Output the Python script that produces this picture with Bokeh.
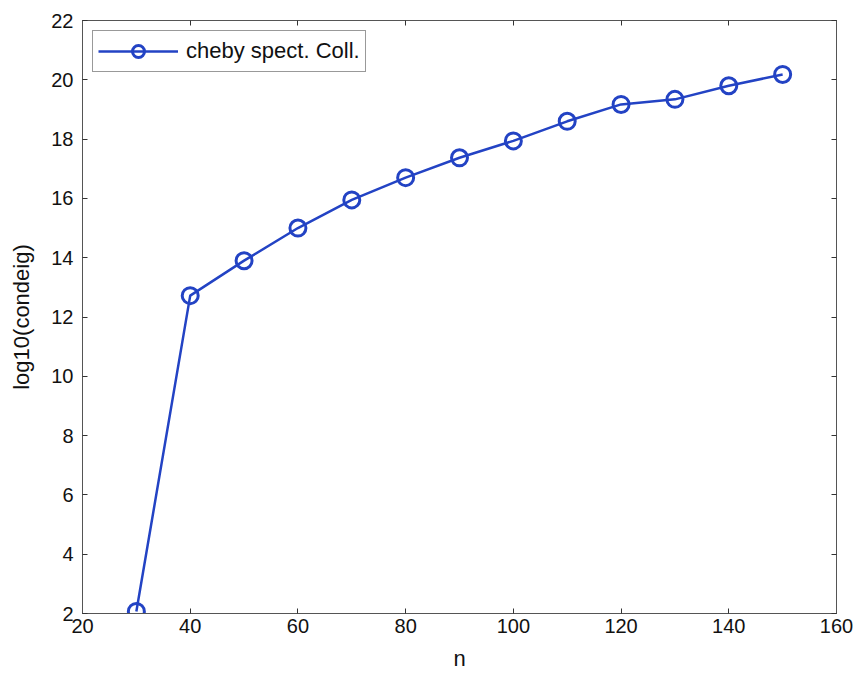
from bokeh.plotting import figure
from bokeh.models import Range1d, LinearAxis, FixedTicker, Legend, LegendItem
from bokeh.embed import file_html
from bokeh.resources import INLINE

# matrix size n and log10 of the eigenvalue condition number
n_values = [30, 40, 50, 60, 70, 80, 90, 100, 110, 120, 130, 140, 150]
log_condeig = [2.07, 12.72, 13.9, 15.0, 15.95, 16.7, 17.37, 17.94, 18.6, 19.17, 19.34, 19.8, 20.18]

x_ticks = [20, 40, 60, 80, 100, 120, 140, 160]
y_ticks = [2, 4, 6, 8, 10, 12, 14, 16, 18, 20, 22]

series_label = "cheby spect. Coll."
line_color = "#2343c4"
font = "Liberation Sans"
frame_color = "#555555"

p = figure(width=861, height=674, output_backend="svg", toolbar_location=None,
           x_range=Range1d(20, 160), y_range=Range1d(2, 22),
           min_border_left=82, min_border_right=25, min_border_top=20, min_border_bottom=61)
p.background_fill_color = "white"
p.border_fill_color = "white"
p.outline_line_color = frame_color
p.outline_line_width = 1
p.grid.visible = False

def style_axis(ax, labels=True):
    ax.axis_line_color = frame_color
    ax.major_tick_in = 5
    ax.major_tick_out = 0
    ax.minor_tick_line_color = None
    ax.major_tick_line_color = "#333333"
    ax.major_label_text_font = font
    ax.major_label_text_font_size = "20px"
    ax.major_label_text_color = "#111111"
    ax.axis_label_text_font = font
    ax.axis_label_text_font_size = "22px"
    ax.axis_label_text_font_style = "normal"
    ax.axis_label_text_color = "#111111"
    if not labels:
        # tick marks only on the opposite sides of the box
        ax.major_label_text_font_size = "1px"
        ax.major_label_text_color = None
        ax.major_label_standoff = 0

p.xaxis.ticker = FixedTicker(ticks=x_ticks)
p.yaxis.ticker = FixedTicker(ticks=y_ticks)
p.xaxis.axis_label = "n"
p.yaxis.axis_label = "log10(condeig)"
p.xaxis.major_label_standoff = 5
p.yaxis.major_label_standoff = 9
p.xaxis.axis_label_standoff = 10
p.yaxis.axis_label_standoff = 14
style_axis(p.xaxis[0])
style_axis(p.yaxis[0])

top_axis = LinearAxis(ticker=FixedTicker(ticks=x_ticks))
right_axis = LinearAxis(ticker=FixedTicker(ticks=y_ticks))
style_axis(top_axis, labels=False)
style_axis(right_axis, labels=False)
p.add_layout(top_axis, "above")
p.add_layout(right_axis, "right")

ln = p.line(n_values, log_condeig, line_color=line_color, line_width=2.5)
mk = p.scatter(n_values, log_condeig, marker="circle", size=16, fill_color=None,
               line_color=line_color, line_width=3)

legend = Legend(items=[LegendItem(label=series_label, renderers=[ln, mk])],
                location="top_left")
legend.label_text_font = font
legend.label_text_font_size = "22px"
legend.label_text_color = "#111111"
legend.border_line_color = "#333333"
legend.border_line_width = 1
legend.glyph_width = 80
legend.glyph_height = 30
legend.padding = 5
legend.margin = 10
legend.spacing = 0
legend.label_standoff = 8
p.add_layout(legend, "center")

open("out.html", "w").write(file_html(p, INLINE))
